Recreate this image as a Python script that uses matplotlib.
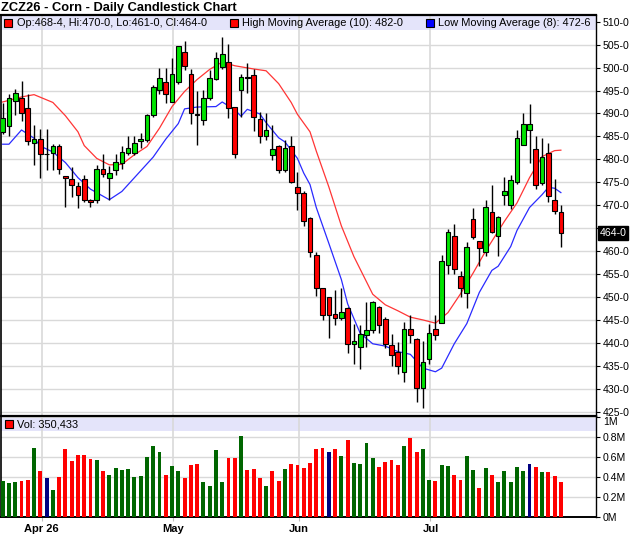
import numpy as np
import matplotlib.pyplot as plt
from matplotlib.patches import Rectangle
from matplotlib.ticker import FuncFormatter

plt.rcParams['font.family'] = ['Liberation Sans', 'DejaVu Sans']

# daily OHLC for ZCZ26, cents/bu
opens = [486.0, 487.3, 492.8, 493.4, 491.1, 483.5, 484.5, 481.2, 481.4, 482.8,
         476.3, 475.7, 474.1, 475.8, 471.2, 471.1, 478.0, 476.0, 477.6, 479.1,
         481.3, 481.4, 484.0, 484.2, 489.6, 495.1, 496.9, 492.5, 496.9, 503.4,
         498.5, 489.8, 488.6, 493.3, 497.6, 500.1, 501.2, 491.4, 495.2, 497.9,
         498.3, 488.7, 485.1, 480.9, 482.8, 477.7, 483.0, 473.9, 472.6, 467.2,
         459.2, 451.9, 449.9, 446.2, 445.4, 447.5, 439.7, 439.2, 441.7, 442.7,
         447.8, 445.1, 439.6, 438.0, 433.7, 443.1, 440.9, 430.1, 436.4, 443.1,
         444.4, 456.9, 463.2, 454.6, 450.9, 467.0, 462.1, 459.7, 468.6, 463.3,
         472.2, 470.1, 475.0, 483.1, 486.4, 482.2, 474.8, 481.4, 471.2, 468.5]
highs = [492.2, 494.3, 495.4, 497.0, 494.3, 487.5, 486.7, 486.7, 483.4, 483.4,
         476.4, 478.3, 475.1, 476.5, 471.4, 478.7, 481.2, 478.5, 481.2, 483.0,
         485.1, 485.1, 485.7, 489.9, 496.2, 499.8, 499.8, 502.0, 504.8, 505.7,
         499.6, 494.8, 495.1, 499.4, 503.4, 506.7, 505.2, 491.5, 498.7, 500.9,
         499.6, 490.4, 490.1, 487.5, 483.1, 484.2, 485.1, 477.3, 473.0, 467.5,
         459.7, 452.0, 450.0, 451.5, 451.9, 447.9, 444.1, 443.9, 449.0, 449.2,
         448.0, 445.7, 442.0, 440.2, 444.6, 446.0, 441.0, 440.4, 444.2, 446.0,
         459.1, 464.9, 465.8, 455.7, 462.0, 469.5, 462.2, 471.2, 474.4, 467.6,
         476.1, 476.6, 486.5, 490.1, 492.0, 485.1, 484.6, 483.6, 475.7, 470.0]
lows = [485.5, 485.0, 489.6, 488.3, 483.1, 478.8, 476.0, 477.7, 477.6, 476.9,
        469.6, 471.8, 469.3, 470.7, 469.6, 470.4, 476.2, 471.1, 476.5, 478.0,
        481.0, 481.0, 482.4, 483.8, 489.3, 494.3, 492.3, 492.5, 496.5, 499.4,
        487.8, 483.1, 487.5, 492.9, 497.2, 499.7, 489.1, 480.2, 489.3, 494.5,
        486.1, 483.5, 484.3, 479.9, 477.1, 477.3, 474.8, 469.0, 465.5, 458.8,
        450.2, 445.0, 441.0, 443.9, 444.9, 437.7, 435.5, 434.2, 439.2, 442.1,
        442.1, 438.8, 435.0, 433.3, 431.5, 439.9, 427.2, 425.7, 435.5, 440.6,
        444.4, 455.1, 455.1, 450.0, 447.5, 462.6, 456.8, 458.9, 463.9, 458.9,
        470.1, 469.1, 474.6, 483.1, 479.3, 473.5, 474.4, 470.8, 468.1, 461.0]
closes = [489.1, 493.3, 494.5, 490.1, 484.1, 484.4, 481.2, 481.2, 483.0, 478.0,
          476.0, 474.3, 472.3, 471.1, 470.7, 478.0, 476.7, 477.0, 479.4, 481.7,
          482.4, 483.5, 484.4, 489.6, 495.8, 497.8, 494.3, 498.7, 504.6, 500.4,
          490.0, 489.6, 493.4, 497.8, 502.0, 503.0, 491.2, 481.2, 498.0, 497.7,
          489.3, 485.1, 486.5, 482.2, 477.7, 482.4, 475.1, 472.6, 466.6, 459.7,
          451.9, 446.1, 446.1, 445.4, 446.8, 439.7, 440.4, 441.9, 442.7, 448.8,
          443.9, 439.8, 437.3, 434.9, 443.1, 441.7, 430.1, 435.9, 442.2, 441.7,
          457.8, 464.1, 456.2, 452.0, 460.9, 463.1, 460.7, 469.6, 464.1, 467.5,
          473.0, 475.4, 484.7, 487.6, 487.6, 474.3, 480.6, 472.0, 468.8, 464.0]

# volume in thousands of contracts, and change vs previous close (u/d/n)
vol_k = [360, 340, 350, 360, 370, 690, 460, 390, 270, 400,
         680, 560, 620, 620, 580, 570, 460, 420, 490, 470,
         480, 400, 410, 600, 710, 650, 420, 510, 460, 390,
         520, 530, 350, 310, 670, 350, 590, 590, 810, 470,
         480, 390, 310, 460, 360, 480, 530, 520, 490, 540,
         680, 690, 650, 680, 610, 770, 540, 530, 740, 590,
         500, 550, 570, 520, 710, 790, 650, 680, 370, 360,
         520, 510, 420, 370, 610, 470, 290, 490, 420, 350,
         460, 350, 500, 460, 530, 500, 450, 450, 410, 350.433]
vol_dir = ("uuuddudnud" "ddddduduuu" "uuuuuuduud" "dduuuuddud" "dduddudddd"
           "ddnduduuuu" "ddddudduud" "uudduududu" "uuuunduddd")

# moving average lines, read at selected bars
hi_ma_idx = [0, 3, 5, 8, 10, 12, 13, 15, 17, 19, 21, 23, 25, 27, 29, 31, 33, 35, 37, 40,
             42, 44, 46, 47, 49, 50, 52, 54, 56, 59, 61, 63, 65, 67, 69, 71, 73, 75, 77, 80,
             82, 84, 86, 88, 89]
hi_ma_val = [492.5, 493.6, 494.1, 492.4, 489.5, 486.0, 483.0, 480.2, 478.8, 478.9,
             481.0, 482.8, 486.8, 491.5, 494.8, 497.4, 499.6, 501.2, 500.4, 499.7,
             499.3, 496.5, 492.4, 489.8, 486.0, 481.8, 474.0, 465.5, 458.8, 450.6,
             448.3, 447.0, 445.6, 445.0, 444.3, 446.6, 450.7, 455.2, 460.0, 466.5,
             470.5, 476.0, 480.6, 481.9, 482.0]
lo_ma_idx = [0, 1, 3, 5, 6, 8, 10, 12, 14, 17, 19, 21, 24, 26, 28, 29, 31, 34, 35, 37,
             38, 39, 41, 42, 44, 45, 47, 48, 49, 50, 52, 54, 55, 57, 59, 61, 63, 65, 67, 69,
             70, 72, 74, 76, 78, 79, 81, 82, 84, 86, 87, 88, 89]
lo_ma_val = [483.3, 483.3, 486.4, 484.6, 482.9, 481.6, 479.3, 476.0, 473.5, 471.2,
             473.0, 476.0, 480.5, 484.4, 487.8, 491.0, 491.4, 491.5, 492.5, 490.8,
             489.4, 490.9, 489.9, 488.0, 484.7, 483.8, 480.2, 477.0, 474.5, 469.5,
             461.7, 453.8, 448.5, 442.1, 439.8, 439.3, 438.1, 437.5, 434.5, 433.7,
             434.5, 439.8, 444.2, 451.0, 455.8, 456.7, 461.0, 464.5, 469.5, 472.3,
             473.9, 473.7, 472.75]

month_idx = [6, 27, 47, 68]
month_labels = ['Apr 26', 'May', 'Jun', 'Jul']


def eighths(p):
    whole = int(p)
    return f"{whole}-{int(round((p - whole) * 8))}"


W, H = 640, 536
fig = plt.figure(figsize=(W / 100, H / 100), dpi=100)


def box(l, t, r, b):
    return [l / W, 1 - b / H, (r - l) / W, (b - t) / H]


ax = fig.add_axes(box(1, 15, 596, 416))
axv = fig.add_axes(box(1, 416, 596, 517), sharex=ax)

x = np.arange(len(closes))
o, h, l, c = map(np.array, (opens, highs, lows, closes))
grid_c = '#d9d9d9'

# candles
body_col = np.where(c > o, '#00e400', np.where(c < o, '#ff0000', 'black'))
ax.vlines(x, l, h, color='black', lw=1.0, zorder=3)
ax.bar(x, np.abs(c - o), bottom=np.minimum(o, c), width=0.74, color=body_col,
       edgecolor='black', linewidth=0.8, zorder=4)

ax.plot(hi_ma_idx, hi_ma_val, color='#ff3535', lw=0.9, zorder=2)
ax.plot(lo_ma_idx, lo_ma_val, color='#2a2aff', lw=0.9, zorder=2)

ax.set_xlim(-0.27, 94.6)
ax.set_ylim(424.06, 511.46)
ax.yaxis.tick_right()
ax.set_yticks(np.arange(425, 511, 5))
# the last-price box hides the tick label next to it
ax.yaxis.set_major_formatter(FuncFormatter(
    lambda v, _: '' if abs(v - closes[-1]) < 2.5 else f"{v:.0f}-0"))
ax.tick_params(axis='y', length=3, pad=2, labelsize=7.6)
ax.tick_params(axis='x', length=0, labelbottom=False)
ax.grid(axis='y', color=grid_c, lw=1.0)
ax.set_axisbelow(True)

# volume
vcol = {'u': '#006600', 'd': '#ff0000', 'n': '#000080'}
axv.bar(x, vol_k, width=0.62, color=[vcol[d] for d in vol_dir], zorder=3)
axv.set_ylim(0, 1014)
axv.yaxis.tick_right()
axv.set_yticks([0, 200, 400, 600, 800, 1000])
axv.yaxis.set_major_formatter(FuncFormatter(lambda v, _: f"{v / 1000:g}M"))
axv.tick_params(axis='y', length=3, pad=2, labelsize=7.6)
axv.yaxis.get_major_ticks()[-1].label2.set_va('top')
axv.set_xticks(np.array(month_idx) + 0.2, month_labels, fontweight='bold')
axv.tick_params(axis='x', length=3, color='#bdbdbd', labelsize=8, pad=2)
axv.grid(axis='y', color=grid_c, lw=1.0)
axv.set_axisbelow(True)

for a in (ax, axv):
    for m in month_idx:
        a.axvline(m + 0.2, color=grid_c, lw=1.2, zorder=0.7)
    a.spines['left'].set_linewidth(1.2)
    a.spines['right'].set_linewidth(1.0)
    a.spines['top'].set_linewidth(1.6)
    a.spines['bottom'].set_linewidth(1.4)

# legend bands
band_c = '#e4e4fa'
ax.add_patch(Rectangle((0, 0.9626), 1, 0.0354, transform=ax.transAxes,
                       fc=band_c, ec='none', zorder=0.6))
axv.add_patch(Rectangle((0, 0.854), 1, 0.126, transform=axv.transAxes,
                        fc=band_c, ec='none', zorder=0.6))

leg_y = 0.979
items = [(0.0126, '#ff0000', f"Op:{eighths(opens[-1])}, Hi:{eighths(highs[-1])}, "
                             f"Lo:{eighths(lows[-1])}, Cl:{eighths(closes[-1])}"),
         (0.3908, '#ff0000', f"High Moving Average (10): {eighths(hi_ma_val[-1])}"),
         (0.7202, '#0000ff', f"Low Moving Average (8): {eighths(lo_ma_val[-1])}")]
for xs, col, txt in items:
    ax.plot([xs], [leg_y], marker='s', ms=5.6, mfc=col, mec='black', mew=0.8,
            transform=ax.transAxes, zorder=6, clip_on=False)
    ax.text(xs + 0.0135, leg_y, txt, transform=ax.transAxes, fontsize=7.9,
            va='center', ha='left', zorder=6)

axv.plot([0.0134], [0.918], marker='s', ms=5.6, mfc='#ff0000', mec='black', mew=0.8,
         transform=axv.transAxes, zorder=6, clip_on=False)
axv.text(0.0274, 0.918, f"Vol: {vol_k[-1] * 1000:,.0f}", transform=axv.transAxes,
         fontsize=7.9, va='center', ha='left', zorder=6)

# last price marker
ax.annotate(eighths(closes[-1]), xy=(1, closes[-1]), xycoords=('axes fraction', 'data'),
            xytext=(2.5, 0), textcoords='offset points', ha='left', va='center',
            color='white', fontsize=7.6, zorder=7, annotation_clip=False,
            bbox=dict(boxstyle='square,pad=0.18', fc='black', ec='black'))

fig.text(1 / W, 1 - 8.5 / H, 'ZCZ26 - Corn - Daily Candlestick Chart', fontsize=9.3,
         fontweight='bold', va='center', ha='left')

fig.savefig('out.png', dpi=100)
